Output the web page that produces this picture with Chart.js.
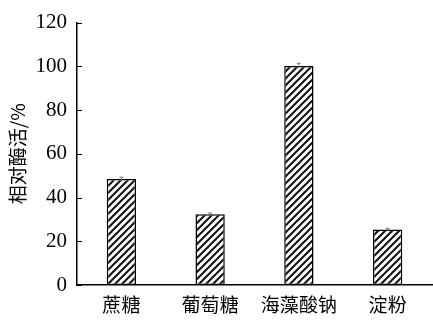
<!DOCTYPE html>
<html>
<head>
<meta charset="utf-8">
<script src="https://cdn.jsdelivr.net/npm/chart.js@4"></script>
<style>
  html, body { margin: 0; padding: 0; background: #fff; }
  #wrap { width: 433px; height: 320px; }
</style>
</head>
<body>
<div id="wrap"><canvas id="chart" width="433" height="320"></canvas></div>
<script>
const categories = ['蔗糖', '葡萄糖', '海藻酸钠', '淀粉'];
const activity = [48.5, 32.4, 100.2, 25.4];
const errors = [0.8, 0.5, 1.2, 0.5];
const yTicks = [0, 20, 40, 60, 80, 100, 120];

const serif = '"Liberation Serif", "DejaVu Serif", serif';
const cjk = '"Noto Sans CJK SC", "Liberation Serif", serif';

// diagonal hatch like the printed figure
function makeHatch() {
    const size = 7;
    const c = document.createElement('canvas');
    c.width = size; c.height = size;
    const g = c.getContext('2d');
    g.fillStyle = '#fff';
    g.fillRect(0, 0, size, size);
    g.strokeStyle = '#111';
    g.lineWidth = 2;
    g.beginPath();
    g.moveTo(-1, size + 1); g.lineTo(size + 1, -1);
    g.moveTo(-1, 1); g.lineTo(1, -1);
    g.moveTo(size - 1, size + 1); g.lineTo(size + 1, size - 1);
    g.stroke();
    return g.createPattern(c, 'repeat');
}

// inward tick marks on the y axis + error bars
const extras = {
    id: 'extras',
    afterDatasetsDraw(chart) {
        const ctx = chart.ctx;
        const y = chart.scales.y;
        const x = chart.scales.x;
        ctx.save();
        ctx.strokeStyle = '#000';
        ctx.lineWidth = 1;
        yTicks.forEach(v => {
            const py = Math.round(y.getPixelForValue(v)) + 0.5;
            ctx.beginPath();
            ctx.moveTo(x.left, py);
            ctx.lineTo(x.left + 5, py);
            ctx.stroke();
        });
        ctx.strokeStyle = '#777';
        const meta = chart.getDatasetMeta(0);
        meta.data.forEach((bar, i) => {
            const top = y.getPixelForValue(activity[i] + errors[i]);
            const bot = y.getPixelForValue(activity[i] - errors[i]);
            ctx.beginPath();
            ctx.moveTo(bar.x, top); ctx.lineTo(bar.x, bot);
            ctx.moveTo(bar.x - 2, top); ctx.lineTo(bar.x + 2, top);
            ctx.stroke();
        });
        ctx.restore();
    }
};

new Chart(document.getElementById('chart').getContext('2d'), {
    type: 'bar',
    data: {
        labels: categories,
        datasets: [{
            data: activity,
            backgroundColor: makeHatch(),
            borderColor: '#000',
            borderWidth: 1.5,
            borderSkipped: false,
            barPercentage: 0.33,
            categoryPercentage: 1.0
        }]
    },
    options: {
        responsive: false,
        animation: false,
        layout: { padding: { top: 11, right: 1, left: 0, bottom: 0 } },
        plugins: { legend: { display: false }, tooltip: { enabled: false } },
        scales: {
            x: {
                grid: { display: false, drawTicks: false },
                border: { color: '#000', width: 1.5 },
                ticks: { color: '#000', font: { family: cjk, size: 19 }, padding: 8 },
                afterFit(scale) { scale.height = 35; }
            },
            y: {
                min: 0,
                max: 120,
                afterBuildTicks(scale) { scale.ticks = yTicks.map(v => ({ value: v })); },
                grid: { display: false, drawTicks: false },
                border: { color: '#000', width: 1.5 },
                ticks: { color: '#000', font: { family: serif, size: 21 }, padding: 10 },
                title: {
                    display: true,
                    text: '相对酶活/%',
                    color: '#000',
                    font: { family: cjk, size: 19 },
                    padding: { top: 6, bottom: 2 }
                },
                afterFit(scale) { scale.width = 77; }
            }
        }
    },
    plugins: [extras]
});
</script>
</body>
</html>
